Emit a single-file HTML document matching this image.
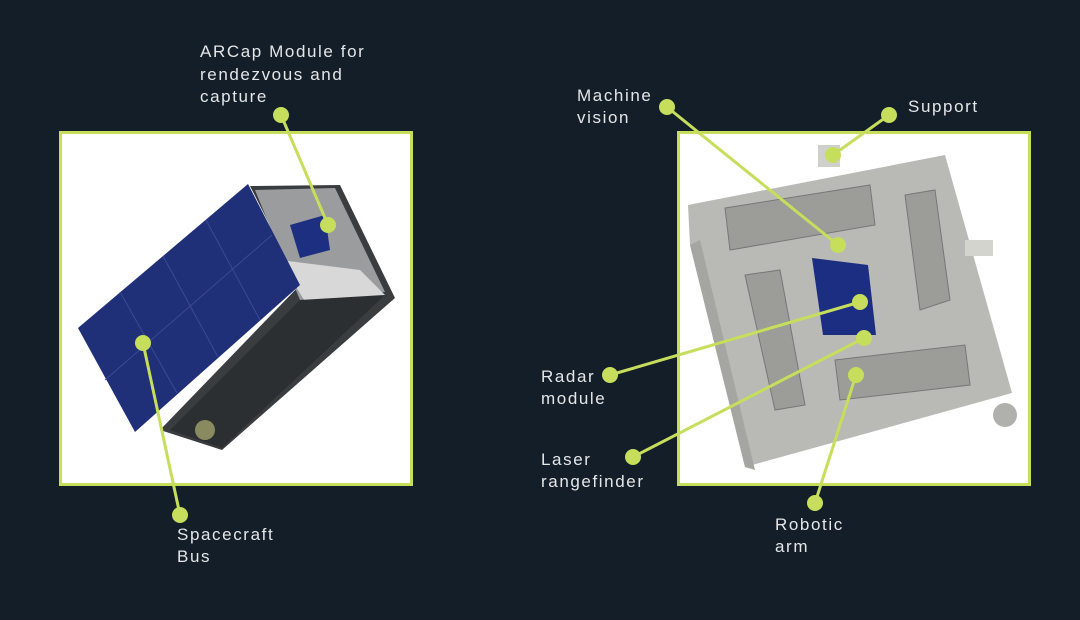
<!DOCTYPE html>
<html><head><style>
html,body{margin:0;padding:0;background:#131e28;}
svg{display:block}
text{font-family:"Liberation Sans",sans-serif;font-size:17px;fill:#e4e6e8;letter-spacing:1.6px;}
</style></head><body>
<svg width="1080" height="620" viewBox="0 0 1080 620">
<rect width="1080" height="620" fill="#131e28"/>
<rect x="60.5" y="132.5" width="351" height="352" fill="#fff" stroke="#c6de5c" stroke-width="3"/>
<polygon points="250,186 340,185 395,298 222,450 160,430 300,285" fill="#3a3d40"/>
<polygon points="255,190 335,188 385,292 300,300" fill="#9a9c9e"/>
<polygon points="280,260 360,270 385,295 310,310" fill="#d8d8d8"/>
<polygon points="300,300 385,295 222,448 170,430" fill="#2c2f31"/>
<polygon points="290,225 325,215 330,250 300,258" fill="#1d2f80"/>
<polygon points="78,328 248,184 300,285 135,432" fill="#1f2f78"/>
<g stroke="#3b4a93" stroke-width="1" fill="none">
<line x1="120" y1="292" x2="177" y2="393"/>
<line x1="163" y1="256" x2="218" y2="357"/>
<line x1="206" y1="220" x2="260" y2="320"/>
<line x1="105" y1="380" x2="272" y2="235"/>
</g>
<circle cx="205" cy="430" r="10" fill="#8a8a60"/>
<rect x="678.5" y="132.5" width="351" height="352" fill="#fff" stroke="#c6de5c" stroke-width="3"/>
<polygon points="688,205 945,155 1012,393 745,467 690,245" fill="#b9b9b5"/>
<polygon points="690,245 745,467 755,470 700,240" fill="#a5a5a1"/>
<rect x="818" y="145" width="22" height="22" fill="#cfcfcc"/>
<rect x="965" y="240" width="28" height="16" fill="#d4d4cf"/>
<polygon points="812,258 868,265 876,335 823,335" fill="#1c2e82"/>
<g fill="#9c9c98" stroke="#777" stroke-width="1">
<polygon points="725,208 870,185 875,225 730,250"/>
<polygon points="905,195 935,190 950,300 920,310"/>
<polygon points="745,275 780,270 805,405 775,410"/>
<polygon points="835,360 965,345 970,385 840,400"/>
</g>
<circle cx="1005" cy="415" r="12" fill="#b0b0ac"/>
<g stroke="#c6de5c" stroke-width="3" fill="none">
<line x1="281" y1="115" x2="328" y2="225"/>
<line x1="143" y1="343" x2="180" y2="515"/>
<line x1="667" y1="107" x2="838" y2="245"/>
<line x1="889" y1="115" x2="833" y2="155"/>
<line x1="610" y1="375" x2="860" y2="302"/>
<line x1="633" y1="457" x2="864" y2="338"/>
<line x1="815" y1="503" x2="856" y2="375"/>
</g>
<g fill="#c6de5c">
<circle cx="281" cy="115" r="8"/><circle cx="328" cy="225" r="8"/>
<circle cx="143" cy="343" r="8"/><circle cx="180" cy="515" r="8"/>
<circle cx="667" cy="107" r="8"/><circle cx="838" cy="245" r="8"/>
<circle cx="889" cy="115" r="8"/><circle cx="833" cy="155" r="8"/>
<circle cx="610" cy="375" r="8"/><circle cx="860" cy="302" r="8"/>
<circle cx="633" cy="457" r="8"/><circle cx="864" cy="338" r="8"/>
<circle cx="815" cy="503" r="8"/><circle cx="856" cy="375" r="8"/>
</g>
<text x="200" y="57">ARCap Module for</text>
<text x="200" y="80">rendezvous and</text>
<text x="200" y="102">capture</text>
<text x="177" y="540">Spacecraft</text>
<text x="177" y="562">Bus</text>
<text x="577" y="101">Machine</text>
<text x="577" y="123">vision</text>
<text x="908" y="112">Support</text>
<text x="541" y="382">Radar</text>
<text x="541" y="404">module</text>
<text x="541" y="465">Laser</text>
<text x="541" y="487">rangefinder</text>
<text x="775" y="530">Robotic</text>
<text x="775" y="552">arm</text>
</svg>
</body></html>
